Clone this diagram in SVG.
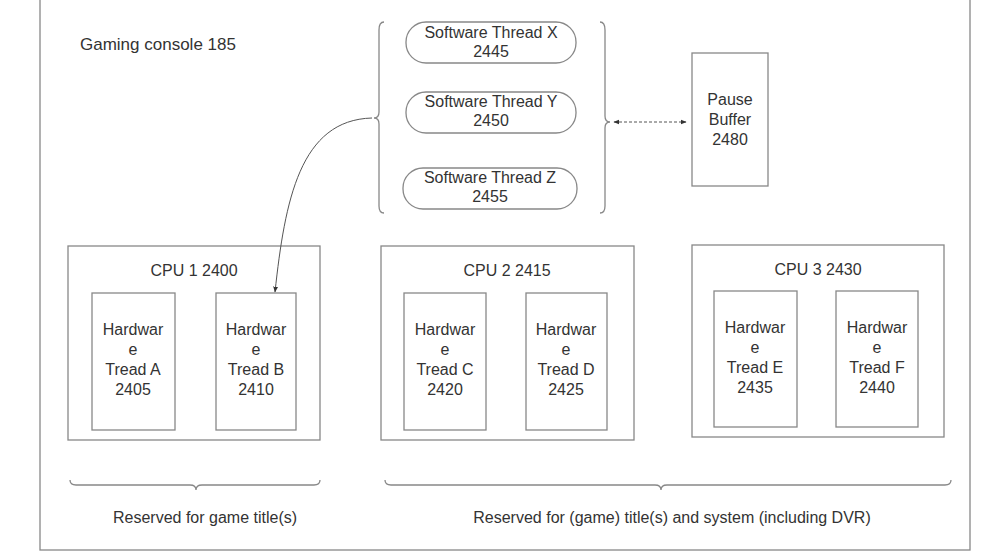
<svg xmlns="http://www.w3.org/2000/svg" width="984" height="552" viewBox="0 0 984 552">
<defs>
<style>
.b{fill:none;stroke:#888;stroke-width:1.3}
.w{fill:#fff;stroke:#888;stroke-width:1.3}
text{font-family:"Liberation Sans",Arial,sans-serif;font-size:16px;fill:#333;text-anchor:middle}
</style>
<marker id="ah" viewBox="0 0 10 10" refX="9" refY="5" markerWidth="6" markerHeight="6" orient="auto-start-reverse"><path d="M0,1 L10,5 L0,9 z" fill="#333"/></marker>
</defs>
<rect width="984" height="552" fill="#fff"/>
<rect id="console" class="b" x="40" y="-2" width="930" height="552"/>
<text x="80" y="50" style="text-anchor:start;font-size:17px">Gaming console 185</text>
<g id="swgroup">
<path class="b" d="M384,22 Q379,22 379,30 L379,112 Q379,118 374,118 Q379,118 379,124 L379,206 Q379,213 384,213"/>
<path class="b" d="M600,22 Q605,22 605,30 L605,116 Q605,122 610,122 Q605,122 605,128 L605,206 Q605,213 600,213"/>
</g>
<g id="swX"><rect class="w" x="406" y="22" width="170" height="41" rx="20"/><text x="491" y="38">Software Thread X</text><text x="491" y="57">2445</text></g>
<g id="swY"><rect class="w" x="406" y="92" width="170" height="41" rx="20"/><text x="491" y="107">Software Thread Y</text><text x="491" y="126">2450</text></g>
<g id="swZ"><rect class="w" x="403" y="168" width="174" height="41" rx="20"/><text x="490" y="183">Software Thread Z</text><text x="490" y="202">2455</text></g>
<g id="pause"><rect class="w" x="692" y="53" width="76" height="133"/><text x="730" y="105">Pause</text><text x="730" y="125">Buffer</text><text x="730" y="145">2480</text></g>
<g id="cpu1"><rect class="b" x="68" y="246" width="252" height="194"/><text x="194" y="276">CPU 1 2400</text></g>
<g id="hwA"><rect class="w" x="92" y="293" width="83" height="137"/><text x="133" y="335">Hardwar</text><text x="133" y="355">e</text><text x="133" y="375">Tread A</text><text x="133" y="395">2405</text></g>
<g id="hwB"><rect class="w" x="216" y="293" width="80" height="137"/><text x="256" y="335">Hardwar</text><text x="256" y="355">e</text><text x="256" y="375">Tread B</text><text x="256" y="395">2410</text></g>
<g id="cpu2"><rect class="b" x="381" y="246" width="253" height="194"/><text x="507" y="276">CPU 2 2415</text></g>
<g id="hwC"><rect class="w" x="404" y="293" width="82" height="137"/><text x="445" y="335">Hardwar</text><text x="445" y="355">e</text><text x="445" y="375">Tread C</text><text x="445" y="395">2420</text></g>
<g id="hwD"><rect class="w" x="526" y="293" width="81" height="137"/><text x="566" y="335">Hardwar</text><text x="566" y="355">e</text><text x="566" y="375">Tread D</text><text x="566" y="395">2425</text></g>
<g id="cpu3"><rect class="b" x="692" y="245" width="252" height="192"/><text x="818" y="275">CPU 3 2430</text></g>
<g id="hwE"><rect class="w" x="714" y="291" width="83" height="136"/><text x="755" y="333">Hardwar</text><text x="755" y="353">e</text><text x="755" y="373">Tread E</text><text x="755" y="393">2435</text></g>
<g id="hwF"><rect class="w" x="836" y="291" width="82" height="136"/><text x="877" y="333">Hardwar</text><text x="877" y="353">e</text><text x="877" y="373">Tread F</text><text x="877" y="393">2440</text></g>
<g id="connectors">
<path d="M372,118 C300,120 285,200 275,292" fill="none" stroke="#555" stroke-width="1" marker-end="url(#ah)"/>
<line x1="614" y1="122" x2="686" y2="122" stroke="#555" stroke-width="1" stroke-dasharray="3,2" marker-start="url(#ah)" marker-end="url(#ah)"/>
</g>
<g id="brace-left"><path class="b" d="M70,480 Q70,485 76,485 L190,485 Q196,485 196,490 Q196,485 202,485 L314,485 Q320,485 320,480"/><text x="205" y="523">Reserved for game title(s)</text></g>
<g id="brace-right"><path class="b" d="M385,480 Q385,485 391,485 L655,485 Q661,485 661,490 Q661,485 667,485 L945,485 Q951,485 951,480"/><text x="672" y="523">Reserved for (game) title(s) and system (including DVR)</text></g>
</svg>
